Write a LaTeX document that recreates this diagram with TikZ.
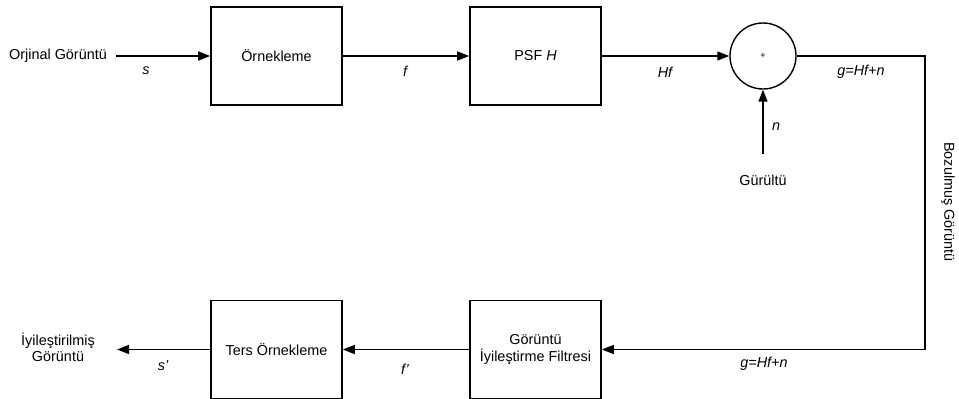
\documentclass[tikz,border=0pt]{standalone}
\usepackage{fontspec}
\setmainfont{Liberation Sans}
\usetikzlibrary{arrows.meta}
\begin{document}
\begin{tikzpicture}[x=1pt,y=-1pt,
  every node/.style={font=\fontsize{14.4}{17}\selectfont},
  blockbox/.style={draw,line width=1.6pt,minimum width=131pt,minimum height=98pt,inner sep=0pt,align=center},
  sumcircle/.style={draw,line width=1.4pt,circle,minimum size=66pt,inner sep=0pt},
  sig/.style={line width=1.5pt,-{Triangle[length=12pt,width=9pt]}},
  lbl/.style={font=\fontsize{14.4}{17}\selectfont\itshape}]
\useasboundingbox (0,0) rectangle (959,399);
% blocks
\node[blockbox] (samp) at (276.5,56) {Örnekleme};
\node[blockbox] (psf) at (535.5,56) {PSF \textit{H}};
\node[sumcircle] (sum) at (763,56) {\fontsize{9}{10}\selectfont +};
\node[blockbox] (filt) at (535.5,349.5) {Görüntü\\İyileştirme Filtresi};
\node[blockbox] (inv) at (276.5,349.5) {Ters Örnekleme};
% texts
\node (orig) at (58,56) {Orjinal Görüntü};
\node (noise) at (763,180) {Gürültü};
\node[align=center,font=\fontsize{14.4}{16}\selectfont] (out) at (58,347) {İyileştirilmiş\\Görüntü};
\node[rotate=-90] (degr) at (948,202) {Bozulmuş Görüntü};
% free ends
\coordinate (inStart) at (116,56);
\coordinate (noiseStart) at (763,154);
\coordinate (cornerA) at (925,56);
\coordinate (cornerB) at (925,349.5);
\coordinate (outEnd) at (117,349.5);
% connectors
\draw[sig] (inStart) -- (samp.west);
\draw[sig] (samp.east) -- (psf.west);
\draw[sig] (psf.east) -- (sum.west);
\draw[sig] (noiseStart) -- (sum.south);
\draw[sig] (sum.east) -- (cornerA) -- (cornerB) -- (filt.east);
\draw[sig] (filt.west) -- (inv.east);
\draw[sig] (inv.west) -- (outEnd);
% labels
\node[lbl] (ls) at (146,71) {s};
\node[lbl] (lf) at (405,71) {f};
\node[lbl] (lhf) at (665,72) {Hf};
\node[lbl] (lg1) at (861,72) {g=Hf+n};
\node[lbl] (ln) at (776,127) {n};
\node[lbl] (lg2) at (764,364) {g=Hf+n};
\node[lbl] (lfp) at (405,369) {f'};
\node[lbl] (lsp) at (163,366) {s'};
\end{tikzpicture}
\end{document}
